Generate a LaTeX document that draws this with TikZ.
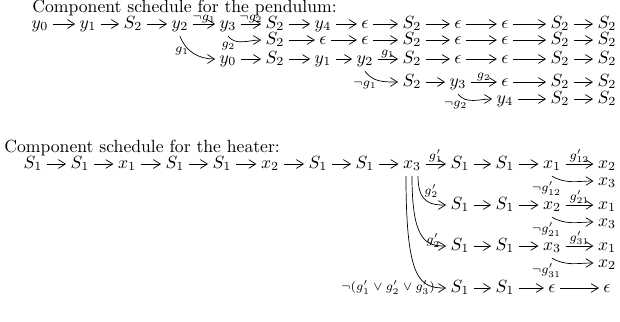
\documentclass[tikz,border=0pt]{standalone}
\usepackage{amsmath,amssymb}
\usetikzlibrary{arrows.meta,calc}

\begin{document}
\begin{tikzpicture}[x=0.567pt,y=0.567pt,
    ent/.style={inner sep=2.4pt,text height=1.55ex,text depth=0.45ex},
    lab/.style={font=\scriptsize,inner sep=0.4pt},
    ar/.style={-{Straight Barb[length=4pt,width=5pt]}}]
  \useasboundingbox (0,0) rectangle (620,-321);

  % pendulum
  \node[anchor=west,inner sep=0pt] (ptitle) at (32,-7.5) {Component schedule for the pendulum:};
  \foreach \x/\t [count=\i] in {40/y_0,88/y_1,133/S_2,180/y_2,228/y_3,275/S_2,323/y_4,365/\epsilon,412/S_2,458/\epsilon,505/\epsilon,560/S_2,607/S_2}
    \node[ent] (pa\i) at (\x,-24) {$\t$};
  \foreach \x/\t [count=\i] in {275/S_2,323/\epsilon,365/\epsilon,412/S_2,458/\epsilon,505/\epsilon,560/S_2,607/S_2}
    \node[ent] (pb\i) at (\x,-40) {$\t$};
  \foreach \x/\t [count=\i] in {228/y_0,275/S_2,323/y_1,365/y_2,412/S_2,458/\epsilon,505/\epsilon,560/S_2,607/S_2}
    \node[ent] (pc\i) at (\x,-59) {$\t$};
  \foreach \x/\t [count=\i] in {412/S_2,458/y_3,505/\epsilon,560/S_2,607/S_2}
    \node[ent] (pd\i) at (\x,-82) {$\t$};
  \foreach \x/\t [count=\i] in {505/y_4,560/S_2,607/S_2}
    \node[ent] (pe\i) at (\x,-99) {$\t$};

  \foreach \i in {1,2,3,6,7,8,9,10,11,12}{\pgfmathtruncatemacro\j{\i+1}\draw[ar] (pa\i)--(pa\j);}
  \foreach \i in {1,...,7}{\pgfmathtruncatemacro\j{\i+1}\draw[ar] (pb\i)--(pb\j);}
  \foreach \i in {1,2,3,5,6,7,8}{\pgfmathtruncatemacro\j{\i+1}\draw[ar] (pc\i)--(pc\j);}
  \foreach \i in {1,3,4}{\pgfmathtruncatemacro\j{\i+1}\draw[ar] (pd\i)--(pd\j);}
  \foreach \i in {1,2}{\pgfmathtruncatemacro\j{\i+1}\draw[ar] (pe\i)--(pe\j);}
  \draw[ar] (pa4)--(pa5) node[lab,midway,above]{$\neg g_1$};
  \draw[ar] (pa5)--(pa6) node[lab,midway,above]{$\neg g_2$};
  \draw[ar] (pc4)--(pc5) node[lab,midway,above]{$g_1$};
  \draw[ar] (pd2)--(pd3) node[lab,midway,above]{$g_2$};
  \draw[ar] (pa4.south) to[out=-70,in=180] node[lab,pos=0.4,left]{$g_1$} (pc1.west);
  \draw[ar] (pa5.south) to[out=-50,in=180] node[lab,pos=0.3,below left]{$g_2$} (pb1.west);
  \draw[ar] (pc4.south) to[out=-55,in=180] node[lab,pos=0.45,below left]{$\neg g_1$} (pd1.west);
  \draw[ar] (pd2.south) to[out=-50,in=180] node[lab,pos=0.35,below left]{$\neg g_2$} (pe1.west);

  % heater
  \node[anchor=west,inner sep=0pt] (htitle) at (4,-148) {Component schedule for the heater:};
  \foreach \x/\t [count=\i] in {33/S_1,80/S_1,127/x_1,175/S_1,222/S_1,270/x_2,318/S_1,365/S_1,412/x_3,460/S_1,505/S_1,552/x_1,607/x_2}
    \node[ent] (ha\i) at (\x,-164) {$\t$};
  \node[ent] (hb1) at (607,-181) {$x_3$};
  \foreach \x/\t [count=\i] in {460/S_1,505/S_1,552/x_2,607/x_1}
    \node[ent] (hc\i) at (\x,-205) {$\t$};
  \node[ent] (hd1) at (607,-222) {$x_3$};
  \foreach \x/\t [count=\i] in {460/S_1,505/S_1,552/x_3,607/x_1}
    \node[ent] (he\i) at (\x,-246) {$\t$};
  \node[ent] (hf1) at (607,-263) {$x_2$};
  \foreach \x/\t [count=\i] in {460/S_1,505/S_1,552/\epsilon,607/\epsilon}
    \node[ent] (hg\i) at (\x,-288) {$\t$};

  \foreach \i in {1,...,8,10,11}{\pgfmathtruncatemacro\j{\i+1}\draw[ar] (ha\i)--(ha\j);}
  \foreach \r in {hc,he}{\draw[ar] (\r1)--(\r2); \draw[ar] (\r2)--(\r3);}
  \foreach \i in {1,2,3}{\pgfmathtruncatemacro\j{\i+1}\draw[ar] (hg\i)--(hg\j);}
  \draw[ar] (ha9)--(ha10) node[lab,midway,above]{$g'_1$};
  \draw[ar] (ha12)--(ha13) node[lab,midway,above]{$g'_{12}$};
  \draw[ar] (hc3)--(hc4) node[lab,midway,above]{$g'_{21}$};
  \draw[ar] (he3)--(he4) node[lab,midway,above]{$g'_{31}$};
  \draw[ar] (ha12.south) to[out=-30,in=180] node[lab,pos=0.25,below left]{$\neg g'_{12}$} (hb1.west);
  \draw[ar] (hc3.south) to[out=-30,in=180] node[lab,pos=0.25,below left]{$\neg g'_{21}$} (hd1.west);
  \draw[ar] (he3.south) to[out=-30,in=180] node[lab,pos=0.25,below left]{$\neg g'_{31}$} (hf1.west);
  \draw[ar] ($(ha9.south)+(6,0)$) .. controls +(0,-28) and +(-14,0) .. node[lab,pos=0.22,right=2pt]{$g'_2$} (hc1.west);
  \draw[ar] ($(ha9.south)+(0,0)$) .. controls +(0,-65) and +(-20,0) .. node[lab,pos=0.6,right]{$g'_2$} (he1.west);
  \draw[ar] ($(ha9.south)+(-6,0)$) .. controls +(0,-105) and +(-26,0) .. node[lab,pos=0.86,left]{$\neg(g'_1\vee g'_2\vee g'_3)$} (hg1.west);
\end{tikzpicture}
\end{document}
